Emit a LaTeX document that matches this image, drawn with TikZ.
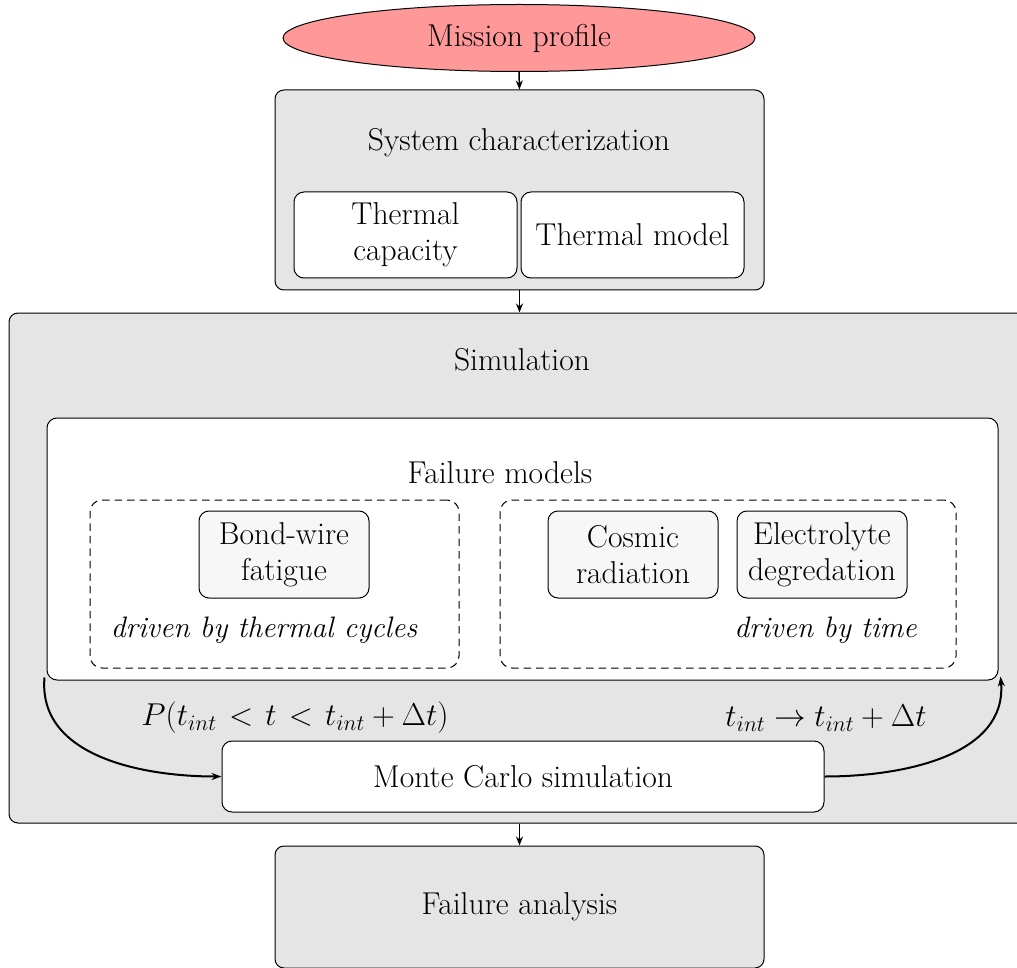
\documentclass[tikz,border=0pt]{standalone}
\usepackage{fix-cm}
\usetikzlibrary{shapes.geometric,arrows.meta}
\definecolor{pinkfill}{RGB}{255,153,153}
\definecolor{boxgray}{RGB}{229,229,229}
\definecolor{lightgray}{RGB}{247,247,247}
\begin{document}
\begin{tikzpicture}[x=1pt,y=-1pt,
  every node/.style={font=\fontsize{31.6}{36}\selectfont},
  ell/.style={ellipse,draw,line width=1pt,fill=pinkfill,inner sep=0pt},
  graybox/.style={draw,line width=1pt,rounded corners=9pt,fill=boxgray,inner sep=0pt},
  whitebox/.style={draw,line width=1pt,rounded corners=10pt,fill=white,inner sep=0pt,align=center},
  modelbox/.style={draw,line width=1pt,rounded corners=10pt,fill=lightgray,inner sep=0pt,align=center,minimum width=170pt,minimum height=87pt},
  dashbox/.style={draw,line width=1pt,rounded corners=12pt,dash pattern=on 7.5pt off 5pt},
  titletext/.style={inner sep=0pt},
  drivetext/.style={inner sep=0pt,font=\fontsize{29.6}{36}\selectfont\itshape},
  looplabel/.style={inner sep=0pt,font=\fontsize{31.6}{36}\selectfont},
  flowarrow/.style={-{Stealth[length=9pt,width=7pt]},line width=1.5pt},
  looparrow/.style={-{Stealth[length=10pt,width=7pt]},line width=2pt}
]
\useasboundingbox (0,0) rectangle (1017,968);
\clip (0,0) rectangle (1017,968);

% Mission profile
\node[ell,minimum width=472pt,minimum height=67pt] (mp) at (519,38) {Mission profile};

% System characterization
\node[graybox,minimum width=489pt,minimum height=200pt] (sys) at (519.5,190) {};
\node[titletext] (systitle) at (519,143) {System characterization};
\node[whitebox,minimum width=223pt,minimum height=86pt] (tc) at (405.5,235) {Thermal\\capacity};
\node[whitebox,minimum width=223pt,minimum height=86pt] (tm) at (632.5,235) {Thermal model};

% Simulation
\node[graybox,minimum width=1026pt,minimum height=510pt] (sim) at (522,568) {};
\node[titletext] (simtitle) at (522,360) {Simulation};
\node[whitebox,minimum width=951pt,minimum height=262pt] (fm) at (522.5,549) {};
\node[titletext] (fmtitle) at (500,473) {Failure models};

\node[dashbox,minimum width=369pt,minimum height=168pt] (dl) at (274.5,584) {};
\node[dashbox,minimum width=456pt,minimum height=168pt] (dr) at (728,584) {};

\node[modelbox] (bw) at (284,554.5) {Bond-wire\\fatigue};
\node[modelbox] (cr) at (633,554.5) {Cosmic\\radiation};
\node[modelbox] (ed) at (822,554.5) {Electrolyte\\degredation};

\node[drivetext] (dtc) at (264,630) {driven by thermal cycles};
\node[drivetext] (dt) at (825.5,630) {driven by time};

\node[whitebox,minimum width=602pt,minimum height=71pt] (mc) at (523,776.5) {Monte Carlo simulation};

\node[looplabel] (pl) at (295,718) {$P(t_{int}\mkern2mu < \mkern2mu t\mkern2mu < \mkern2mu t_{int} + \Delta t)$};
\node[looplabel] (tl) at (826,718) {$t_{int} \rightarrow t_{int} + \Delta t$};

% Failure analysis
\node[graybox,minimum width=489pt,minimum height=122pt] (fa) at (519.5,907) {Failure analysis};

% Connectors
\draw[flowarrow] (mp.south) -- (sys.north);
\draw[flowarrow] (sys.south) -- (sim.north -| sys.south);
\draw[flowarrow] (sim.south -| fa.north) -- (fa.north);

\draw[looparrow] ([xshift=-2pt,yshift=3pt]fm.south west) to[out=-95,in=180] (mc.west);
\draw[looparrow] (mc.east) to[out=0,in=-85] ([xshift=2pt,yshift=4pt]fm.south east);
\end{tikzpicture}
\end{document}
